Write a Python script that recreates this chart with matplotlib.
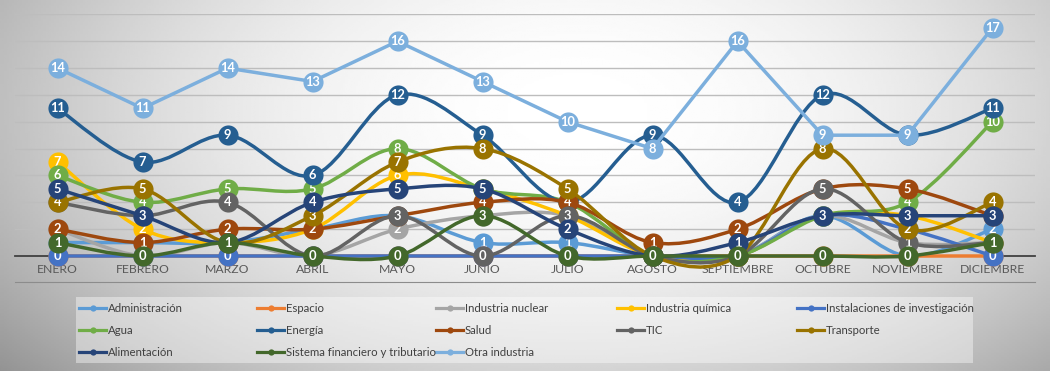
import numpy as np
import matplotlib.pyplot as plt
from matplotlib.path import Path
from matplotlib.patches import PathPatch, Rectangle
from matplotlib.lines import Line2D

plt.rcParams['font.family'] = ['Lato', 'DejaVu Sans']

meses = ['ENERO', 'FEBRERO', 'MARZO', 'ABRIL', 'MAYO', 'JUNIO', 'JULIO',
         'AGOSTO', 'SEPTIEMBRE', 'OCTUBRE', 'NOVIEMBRE', 'DICIEMBRE']

# series en el orden de la leyenda (el ultimo se dibuja encima)
nombres = ['Administración', 'Espacio', 'Industria nuclear', 'Industria química',
           'Instalaciones de investigación', 'Agua', 'Energía', 'Salud', 'TIC',
           'Transporte', 'Alimentación', 'Sistema financiero y tributario',
           'Otra industria']
colores = ['#5B9BD5', '#ED7D31', '#A5A5A5', '#FFC000', '#4472C4', '#70AD47',
           '#255E91', '#9E480E', '#636363', '#997300', '#264478', '#43682B',
           '#7CAFDD']

administracion = [1, 1, 1, 2, 3, 1, 1, 0, 0, 3, 0, 2]
espacio = [0, 0, 0, 0, 0, 0, 0, 0, 0, 0, 0, 0]
nuclear = [2, 0, 1, 0, 2, 3, 3, 0, 0, 3, 1, 1]
quimica = [7, 2, 1, 2, 6, 5, 3, 0, 0, 3, 3, 1]
investigacion = [0, 0, 0, 0, 0, 0, 0, 0, 0, 3, 2, 0]
agua = [6, 4, 5, 5, 8, 5, 4, 0, 0, 3, 4, 10]
energia = [11, 7, 9, 6, 12, 9, 4, 9, 4, 12, 9, 11]
salud = [2, 1, 2, 2, 3, 4, 4, 1, 2, 5, 5, 3]
tic = [4, 3, 4, 0, 3, 0, 3, 0, 0, 5, 1, 1]
transporte = [4, 5, 1, 3, 7, 8, 5, 0, 0, 8, 2, 4]
alimentacion = [5, 3, 1, 4, 5, 5, 2, 0, 1, 3, 3, 3]
financiero = [1, 0, 1, 0, 0, 3, 0, 0, 0, 0, 0, 1]
otra = [14, 11, 14, 13, 16, 13, 10, 8, 16, 9, 9, 17]

series = [administracion, espacio, nuclear, quimica, investigacion, agua,
          energia, salud, tic, transporte, alimentacion, financiero, otra]
suave = [True] * 12 + [False]


def curva(x, y):
    # bezier tipo Excel (catmull-rom, tension 1/6)
    verts = [(x[0], y[0])]
    codes = [Path.MOVETO]
    n = len(x)
    for i in range(n - 1):
        p0 = np.array([x[max(i - 1, 0)], y[max(i - 1, 0)]], float)
        p1 = np.array([x[i], y[i]], float)
        p2 = np.array([x[i + 1], y[i + 1]], float)
        p3 = np.array([x[min(i + 2, n - 1)], y[min(i + 2, n - 1)]], float)
        c1 = p1 + (p2 - p0) / 6
        c2 = p2 - (p3 - p1) / 6
        verts += [tuple(c1), tuple(c2), tuple(p2)]
        codes += [Path.CURVE4] * 3
    return Path(verts, codes)


fig = plt.figure(figsize=(10.5, 3.71), dpi=100)

# fondo degradado
bg = fig.add_axes([0, 0, 1, 1], zorder=-10)
gx, gy = np.meshgrid(np.linspace(0, 1, 400), np.linspace(0, 1, 200))
r2 = ((gx - 0.55) / 0.58) ** 2 + ((gy - 0.3) / 0.9) ** 2
v = np.clip(1.0 - 0.28 * r2, 0, 1)
bg.imshow(v, cmap='gray', vmin=0, vmax=1, extent=[0, 1, 1, 0], aspect='auto')
bg.set_xlim(0, 1)
bg.set_ylim(1, 0)
bg.axis('off')

ax = fig.add_axes([15 / 1050, 115 / 371, 1020 / 1050, (256 - 14.4) / 371])
ax.patch.set_alpha(0)
ax.set_xlim(-0.5, 11.5)
ax.set_ylim(0, 18)
ax.set_yticks(range(2, 19, 2))
ax.yaxis.grid(True, color='#bdbdbd', linewidth=1)
ax.set_axisbelow(True)
ax.tick_params(axis='y', left=False, labelleft=False)
ax.tick_params(axis='x', length=0, pad=6, labelsize=8.8, labelcolor='#595959')
ax.set_xticks(range(12))
ax.set_xticklabels(meses)
for s in ['top', 'right', 'left']:
    ax.spines[s].set_visible(False)
ax.spines['bottom'].set_color('#404040')
ax.spines['bottom'].set_linewidth(1.3)

x = np.arange(12)
for k, (vals, col) in enumerate(zip(series, colores)):
    z = 3 + k
    if suave[k]:
        ax.add_patch(PathPatch(curva(x, vals), facecolor='none', edgecolor=col,
                               linewidth=2.5, zorder=z, clip_on=False))
    else:
        ax.plot(x, vals, color=col, linewidth=2.5, zorder=z, clip_on=False)
    ax.plot(x, vals, 'o', color=col, markersize=14.5, zorder=z + 0.1,
            clip_on=False, markeredgewidth=0)
    for xi, yi in zip(x, vals):
        ax.text(xi, yi, str(yi), color='white', ha='center', va='center',
                fontsize=9.3, fontweight='bold', zorder=z + 0.2, clip_on=False)

# linea del borde inferior del area de trazado
fig.add_artist(Line2D([15 / 1050, 1035 / 1050], [1 - 282 / 371, 1 - 282 / 371],
                      color='#8c8c8c', linewidth=0.8))

# leyenda
fig.add_artist(Rectangle((76 / 1050, 1 - 363 / 371), 897 / 1050, 66 / 371,
                         facecolor='white', alpha=0.4, edgecolor='none'))
col_x = [79, 257, 436, 617, 797]
fila_y = [308, 330, 352]
for k, (nom, col) in enumerate(zip(nombres, colores)):
    fila, c = divmod(k, 5)
    x0 = col_x[c] / 1050
    yy = 1 - fila_y[fila] / 371
    fig.add_artist(Line2D([x0, x0 + 27 / 1050], [yy, yy], color=col,
                          linewidth=2.3))
    fig.add_artist(Line2D([x0 + 13.5 / 1050], [yy], color=col, marker='o',
                          markersize=4.5, markeredgewidth=0))
    fig.text(x0 + 29 / 1050, yy, nom, fontsize=8.2, color='#404040',
             ha='left', va='center')

fig.savefig('out.png', dpi=100)
